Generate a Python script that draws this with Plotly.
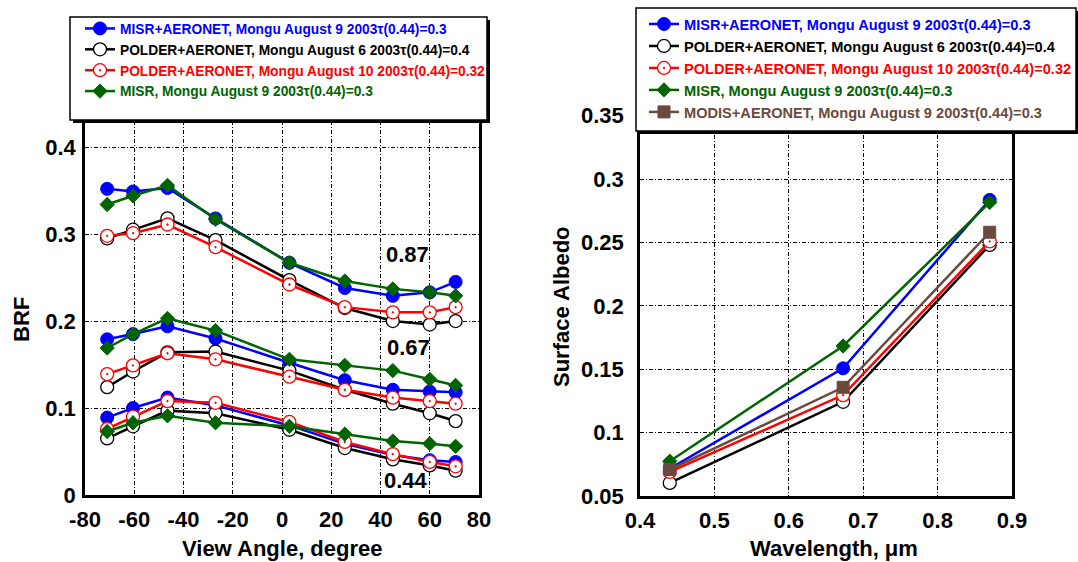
import plotly.graph_objects as go

# ---------------- data: left panel (BRF vs view angle) ----------------
view_angle = [-71, -60.5, -46.5, -27, 3, 25.5, 45, 60, 70.5]

# band 0.87
misr_aer_087 = [0.352, 0.349, 0.353, 0.318, 0.267, 0.238, 0.229, 0.233, 0.245]
polder6_087 = [0.295, 0.305, 0.318, 0.293, 0.247, 0.215, 0.200, 0.196, 0.200]
polder10_087 = [0.298, 0.301, 0.311, 0.285, 0.242, 0.216, 0.210, 0.210, 0.216]
misr_087 = [0.334, 0.344, 0.356, 0.317, 0.267, 0.246, 0.237, 0.233, 0.229]
# band 0.67
misr_aer_067 = [0.179, 0.185, 0.194, 0.180, 0.152, 0.132, 0.121, 0.119, 0.118]
polder6_067 = [0.124, 0.142, 0.164, 0.165, 0.143, 0.121, 0.105, 0.094, 0.085]
polder10_067 = [0.139, 0.149, 0.163, 0.156, 0.136, 0.121, 0.112, 0.108, 0.105]
misr_067 = [0.169, 0.185, 0.203, 0.189, 0.156, 0.149, 0.143, 0.133, 0.126]
# band 0.44
misr_aer_044 = [0.089, 0.100, 0.112, 0.103, 0.080, 0.059, 0.046, 0.040, 0.038]
polder6_044 = [0.065, 0.079, 0.097, 0.094, 0.075, 0.054, 0.041, 0.034, 0.028]
polder10_044 = [0.076, 0.090, 0.108, 0.106, 0.084, 0.061, 0.047, 0.038, 0.033]
misr_044 = [0.073, 0.083, 0.091, 0.083, 0.079, 0.070, 0.062, 0.059, 0.056]

band_labels = ["0.87", "0.67", "0.44"]
band_label_x = [51, 51.5, 50.5]
band_label_y = [0.276, 0.170, 0.017]

angle_ticks = [-80, -60, -40, -20, 0, 20, 40, 60, 80]
angle_ticktext = ["-80", "-60", "-40", "-20", "0", "20", "40", "60", "80"]
brf_ticks = [0, 0.1, 0.2, 0.3, 0.4]

# ---------------- data: right panel (albedo vs wavelength) ----------------
wavelength = [0.44, 0.673, 0.87]
alb_misr_aer = [0.0717, 0.1507, 0.2835]
alb_polder6 = [0.0603, 0.1243, 0.2480]
alb_polder10 = [0.0690, 0.1296, 0.2508]
alb_misr = [0.0774, 0.1683, 0.2815]
alb_modis = [0.0709, 0.1357, 0.2580]

wl_ticks = [0.4, 0.5, 0.6, 0.7, 0.8, 0.9]
alb_ticks = [0.05, 0.1, 0.15, 0.2, 0.25, 0.3, 0.35]
alb_ticktext = ["0.05", "0.1", "0.15", "0.2", "0.25", "0.3", "0.35"]

names = [
    "MISR+AERONET, Mongu August 9 2003τ(0.44)=0.3",
    "POLDER+AERONET, Mongu August 6 2003τ(0.44)=0.4",
    "POLDER+AERONET, Mongu August 10 2003τ(0.44)=0.32",
    "MISR, Mongu August 9 2003τ(0.44)=0.3",
    "MODIS+AERONET, Mongu August 9 2003τ(0.44)=0.3",
]
colors = ["#0000ff", "#000000", "#ff0000", "#006400", "#6b4a3e"]

FONT = "Liberation Sans, Arial, sans-serif"

def mk(i):
    c = colors[i]
    if i == 0:
        return dict(symbol="circle", size=13, color=c, line=dict(color=c, width=1))
    if i == 1:
        return dict(symbol="circle", size=13, color="white", line=dict(color="black", width=1.3))
    if i == 2:
        return dict(symbol="circle-dot", size=13, color="white", line=dict(color=c, width=1.3))
    if i == 3:
        return dict(symbol="diamond", size=11, color=c, line=dict(color=c, width=1))
    return dict(symbol="square", size=12, color=c, line=dict(color=c, width=1))

def lname(i):
    return '<span style="color:%s">%s</span>' % (colors[i], names[i])

fig = go.Figure()

left_sets = [
    [misr_aer_087, misr_aer_067, misr_aer_044],
    [polder6_087, polder6_067, polder6_044],
    [polder10_087, polder10_067, polder10_044],
    [misr_087, misr_067, misr_044],
]
for i, bands in enumerate(left_sets):
    for j, ys in enumerate(bands):
        fig.add_trace(go.Scatter(
            x=view_angle, y=ys, mode="lines+markers",
            line=dict(color=colors[i], width=2.5), marker=mk(i),
            name=lname(i), legendgroup="L%d" % i, showlegend=(j == 0),
            legend="legend", xaxis="x", yaxis="y", cliponaxis=False))

right_sets = [alb_misr_aer, alb_polder6, alb_polder10, alb_misr, alb_modis]
for i, ys in enumerate(right_sets):
    fig.add_trace(go.Scatter(
        x=wavelength, y=ys, mode="lines+markers",
        line=dict(color=colors[i], width=2.5), marker=mk(i),
        name=lname(i), legend="legend2", xaxis="x2", yaxis="y2", cliponaxis=False))

W, H = 1078, 562
def px(x): return x / W
def py(y): return 1 - y / H

axis_common = dict(
    showline=True, linecolor="black", linewidth=2.5, mirror=True,
    showgrid=True, gridcolor="black", gridwidth=1.2, griddash="4px,2px,1px,2px",
    zeroline=False, ticks="outside", tickcolor="rgba(0,0,0,0)",
    automargin=False,
    tickfont=dict(family=FONT, size=22, color="black", weight="bold"),
)

fig.update_layout(
    width=W, height=H, margin=dict(l=0, r=0, t=0, b=0, autoexpand=False),
    plot_bgcolor="white", paper_bgcolor="white",
    font=dict(family=FONT, color="black"),
    xaxis=dict(domain=[px(85), px(479)], range=[-80, 80],
               tickvals=angle_ticks, ticktext=angle_ticktext, ticklen=3,
               anchor="y", **axis_common),
    yaxis=dict(domain=[py(495), py(121)], range=[0, 0.43],
               tickvals=brf_ticks, ticklen=2,
               anchor="x", **axis_common),
    xaxis2=dict(domain=[px(640), px(1012)], range=[0.4, 0.9],
                tickvals=wl_ticks, ticklen=3,
                anchor="y2", **axis_common),
    yaxis2=dict(domain=[py(496), py(108)], range=[0.05, 0.356],
                tickvals=alb_ticks, ticktext=alb_ticktext,
                ticklen=9, anchor="x2", **axis_common),
    legend=dict(x=px(80), y=py(13), xanchor="left", yanchor="top",
                bgcolor="rgba(0,0,0,0)", borderwidth=0,
                font=dict(family=FONT, size=13.75, weight="bold"),
                tracegroupgap=0),
    legend2=dict(x=px(644), y=py(8), xanchor="left", yanchor="top",
                 bgcolor="rgba(0,0,0,0)", borderwidth=0,
                 font=dict(family=FONT, size=14.6, weight="bold"),
                 tracegroupgap=0),
)

# legend frames with drop shadows
fig.add_shape(type="rect", xref="paper", yref="paper",
              x0=px(73), x1=px(490), y0=py(123), y1=py(20),
              fillcolor="black", line=dict(width=0), layer="above")
fig.add_shape(type="rect", xref="paper", yref="paper",
              x0=px(70), x1=px(487), y0=py(120), y1=py(17),
              fillcolor="white", line=dict(color="black", width=1.5), layer="above")
fig.add_shape(type="rect", xref="paper", yref="paper",
              x0=px(639), x1=px(1078), y0=py(134), y1=py(11),
              fillcolor="black", line=dict(width=0), layer="above")
fig.add_shape(type="rect", xref="paper", yref="paper",
              x0=px(636), x1=px(1076), y0=py(131), y1=py(8),
              fillcolor="white", line=dict(color="black", width=1.5), layer="above")

for t, xv, yv in zip(band_labels, band_label_x, band_label_y):
    fig.add_annotation(x=xv, y=yv, xref="x", yref="y", text="<b>%s</b>" % t,
                       showarrow=False, xanchor="center", yanchor="middle",
                       font=dict(family=FONT, size=22, color="black"))

title_font = dict(family=FONT, size=22, color="black")
fig.add_annotation(x=px(21), y=py(320), xref="paper", yref="paper", text="<b>BRF</b>",
                   textangle=-90, showarrow=False, xanchor="center", yanchor="middle",
                   font=title_font)
fig.add_annotation(x=px(282), y=py(548), xref="paper", yref="paper",
                   text="<b>View Angle, degree</b>", showarrow=False,
                   xanchor="center", yanchor="middle", font=title_font)
fig.add_annotation(x=px(561), y=py(307), xref="paper", yref="paper", text="<b>Surface Albedo</b>",
                   textangle=-90, showarrow=False, xanchor="center", yanchor="middle",
                   font=title_font)
fig.add_annotation(x=px(834), y=py(548), xref="paper", yref="paper",
                   text="<b>Wavelength, μm</b>", showarrow=False,
                   xanchor="center", yanchor="middle", font=title_font)

fig.write_html("out.html", config={"displayModeBar": False},
               post_script="document.body.style.margin='0px';")
